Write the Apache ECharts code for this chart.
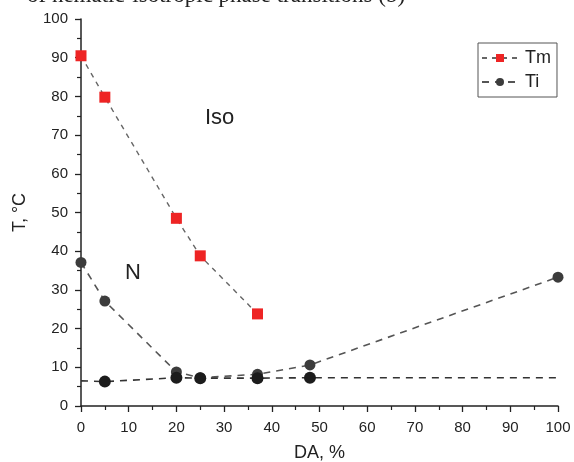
<!DOCTYPE html>
<html>
<head>
<meta charset="utf-8">
<title>Tm / Ti vs DA</title>
<script src="https://cdn.jsdelivr.net/npm/echarts@6/dist/echarts.min.js"></script>
<style>
  html, body { margin: 0; padding: 0; background: #fff; }
  #main { width: 574px; height: 462px; }
</style>
</head>
<body>
<div id="main"></div>
<script>
// data
var xTm = [0, 5, 20, 25, 37];
var tm = [90.5, 79.8, 48.5, 38.8, 23.8];

// upper Ti branch (grey circles)
var xTiUp = [0, 5, 20, 25, 37, 48, 100];
var tiUp = [37.1, 27.1, 8.8, 7.3, 8.2, 10.6, 33.3];

// lower Ti branch (black circles), ends drawn without marker
var xTiLow = [0, 5, 20, 25, 37, 48, 100];
var tiLow = [6.5, 6.3, 7.3, 7.2, 7.2, 7.3, 7.3];
var tiLowMarked = [false, true, true, true, true, true, false];

var xTicks = [0, 10, 20, 30, 40, 50, 60, 70, 80, 90, 100];
var yTicks = [0, 10, 20, 30, 40, 50, 60, 70, 80, 90, 100];

function pairs(xs, ys) {
  return xs.map(function (x, i) { return [x, ys[i]]; });
}

var myChart = echarts.init(document.getElementById('main'));

var axisFont = { fontFamily: 'Liberation Sans', fontSize: 15, color: '#222' };

var option = {
  animation: false,
  grid: { left: 81, right: 16, top: 19, bottom: 56, outerBoundsMode: 'none', containLabel: false },
  legend: {
    data: ['Tm', 'Ti'],
    orient: 'vertical',
    left: 478,
    top: 43,
    padding: [6, 6, 6, 3],
    itemGap: 6,
    itemWidth: 36,
    itemHeight: 10,
    borderColor: '#555',
    borderWidth: 1,
    textStyle: { fontFamily: 'Liberation Sans', fontSize: 18, color: '#222', padding: [0, 0, 0, 2] }
  },
  xAxis: {
    type: 'value',
    min: 0, max: 100, interval: 10,
    name: 'DA, %',
    nameLocation: 'middle',
    nameGap: 38,
    nameTextStyle: { fontFamily: 'Liberation Sans', fontSize: 18, color: '#222' },
    axisLine: { lineStyle: { color: '#222', width: 1.5 } },
    axisTick: { inside: false, length: 6, lineStyle: { color: '#222', width: 1.3 } },
    minorTick: { show: true, splitNumber: 2, length: 4, lineStyle: { color: '#222', width: 1.2 } },
    axisLabel: Object.assign({ margin: 14, formatter: function (v) { return xTicks.indexOf(v) >= 0 ? v : ''; } }, axisFont),
    splitLine: { show: false }
  },
  yAxis: {
    type: 'value',
    min: 0, max: 100, interval: 10,
    name: 'T, °C',
    nameLocation: 'middle',
    nameGap: 52,
    nameTextStyle: { fontFamily: 'Liberation Sans', fontSize: 18, color: '#222' },
    axisLine: { show: true, lineStyle: { color: '#222', width: 1.5 } },
    axisTick: { show: true, inside: false, length: 6, lineStyle: { color: '#222', width: 1.3 } },
    minorTick: { show: true, splitNumber: 2, length: 4, lineStyle: { color: '#222', width: 1.2 } },
    axisLabel: Object.assign({ margin: 13, formatter: function (v) { return yTicks.indexOf(v) >= 0 ? v : ''; } }, axisFont),
    splitLine: { show: false }
  },
  series: [
    {
      name: 'Tm',
      type: 'line',
      data: pairs(xTm, tm),
      symbol: 'rect',
      symbolSize: 11,
      itemStyle: { color: '#ee2424' },
      lineStyle: { color: '#666', width: 1.4, type: [5, 5] },
      z: 3
    },
    {
      name: 'Ti',
      type: 'line',
      data: pairs(xTiUp, tiUp),
      symbol: 'circle',
      symbolSize: 11,
      itemStyle: { color: '#3c3c3c' },
      lineStyle: { color: '#555', width: 1.6, type: [7, 6] },
      z: 2
    },
    {
      name: 'Ti',
      type: 'line',
      data: pairs(xTiLow, tiLow).map(function (p, i) {
        return tiLowMarked[i] ? p : { value: p, symbol: 'none' };
      }),
      symbol: 'circle',
      symbolSize: 12,
      itemStyle: { color: '#1c1c1c' },
      lineStyle: { color: '#333', width: 1.6, type: [7, 6] },
      z: 4
    }
  ],
  graphic: [
    {
      type: 'text',
      left: 27, top: -16,
      style: {
        text: 'of nematic-isotropic phase transitions (b)',
        font: '23px "Liberation Serif"',
        fill: '#222'
      }
    },
    {
      type: 'text',
      x: 205, y: 107,
      style: { text: 'Iso', font: '22px "Liberation Sans"', fill: '#222' }
    },
    {
      type: 'text',
      x: 125, y: 262,
      style: { text: 'N', font: '22px "Liberation Sans"', fill: '#222' }
    }
  ]
};

myChart.setOption(option);
</script>
</body>
</html>
